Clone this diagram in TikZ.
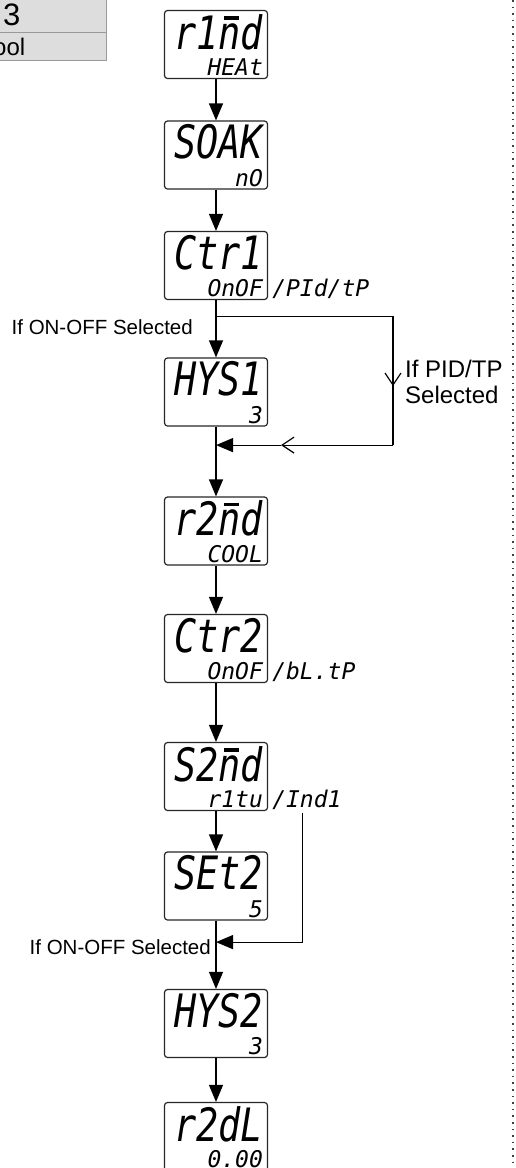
\documentclass[tikz,border=0pt]{standalone}
\usepackage{fontspec}
\setmainfont{Liberation Sans}
\newfontfamily\segfont{DejaVu Sans Mono}
\usetikzlibrary{arrows.meta,positioning}

% seven segment look-alikes
\newcommand{\bigseg}[1]{\scalebox{0.8}[1]{\fontsize{46}{46}\selectfont\segfont\itshape #1}}
\newcommand{\smallseg}[1]{{\fontsize{23}{23}\selectfont\segfont\itshape #1}}
\newcommand{\nbar}{\ooalign{n\cr\hidewidth\kern0.1em\rule[0.64em]{0.4em}{0.07em}\hidewidth\cr}}

\begin{document}
\begin{tikzpicture}[x=1pt, y=1pt, on grid,
    display/.style={draw=black!85, line width=1.2pt, rounded corners=3pt,
      minimum width=103pt, minimum height=68pt, inner sep=0pt},
    bigrow/.style={anchor=north east, inner sep=0pt, xshift=-5pt, yshift=-4pt},
    smallrow/.style={anchor=base east, inner sep=0pt, xshift=-5pt, yshift=3.5pt},
    extra/.style={anchor=base west, inner sep=0pt, xshift=4pt, yshift=3.5pt},
    flow/.style={line width=1.2pt, -{Triangle[length=17pt, width=14pt]}},
    branch/.style={line width=1.2pt},
    barb/.style={line width=1.2pt, -{Straight Barb[length=12pt, width=16pt]}},
    note/.style={inner sep=0pt, font=\fontsize{20.5}{24}\selectfont}]
    \path[use as bounding box] (0,0) rectangle (516,-1168);
    \clip (0,0) rectangle (516,-1168);

    % table corner
    \fill[gray!27] (-5,0) rectangle (106,-60);
    \draw[gray!80, line width=1pt] (-5,-32) -- (106,-32) (106,0) -- (106,-60) -- (-5,-60);
    \node[anchor=base west, inner sep=0pt, font=\fontsize{31}{31}\selectfont] (tnum) at (3,-25) {3};
    \node[anchor=base west, inner sep=0pt, font=\fontsize{24}{24}\selectfont] (tword) at (-7,-55) {ool};

    % displays
    \node[display] (b1) at (216,-44.5) {};
    \node[display] (b2) [below=110.5pt of b1] {};
    \node[display] (b3) [below=110.5pt of b2] {};
    \node[display] (b4) [below=126.5pt of b3] {};
    \node[display] (b5) [below=139pt of b4] {};
    \node[display] (b6) [below=117.5pt of b5] {};
    \node[display] (b7) [below=128pt of b6] {};
    \node[display] (b8) [below=109.5pt of b7] {};
    \node[display] (b9) [below=137.5pt of b8] {};
    \node[display] (b10) [below=113pt of b9] {};

    \node[bigrow] (b1t) at (b1.north east) {\bigseg{r1\nbar d}};
    \node[smallrow] (b1s) at (b1.south east) {\smallseg{HEAt}};
    \node[bigrow] (b2t) at (b2.north east) {\bigseg{SOAK}};
    \node[smallrow] (b2s) at (b2.south east) {\smallseg{nO}};
    \node[bigrow] (b3t) at (b3.north east) {\bigseg{Ctr1}};
    \node[smallrow] (b3s) at (b3.south east) {\smallseg{OnOF}};
    \node[extra] (b3x) at (b3.south east) {\smallseg{/PId/tP}};
    \node[bigrow] (b4t) at (b4.north east) {\bigseg{HYS1}};
    \node[smallrow] (b4s) at (b4.south east) {\smallseg{3}};
    \node[bigrow] (b5t) at (b5.north east) {\bigseg{r2\nbar d}};
    \node[smallrow] (b5s) at (b5.south east) {\smallseg{COOL}};
    \node[bigrow] (b6t) at (b6.north east) {\bigseg{Ctr2}};
    \node[smallrow] (b6s) at (b6.south east) {\smallseg{OnOF}};
    \node[extra] (b6x) at (b6.south east) {\smallseg{/bL.tP}};
    \node[bigrow] (b7t) at (b7.north east) {\bigseg{S2\nbar d}};
    \node[smallrow] (b7s) at (b7.south east) {\smallseg{r1tu}};
    \node[extra] (b7x) at (b7.south east) {\smallseg{/Ind1}};
    \node[bigrow] (b8t) at (b8.north east) {\bigseg{SEt2}};
    \node[smallrow] (b8s) at (b8.south east) {\smallseg{5}};
    \node[bigrow] (b9t) at (b9.north east) {\bigseg{HYS2}};
    \node[smallrow] (b9s) at (b9.south east) {\smallseg{3}};
    \node[bigrow] (b10t) at (b10.north east) {\bigseg{r2dL}};
    \node[smallrow] (b10s) at (b10.south east) {\smallseg{0.00}};

    \path[flow]
    (b1) edge (b2)
    (b2) edge (b3)
    (b3) edge (b4)
    (b4) edge (b5)
    (b5) edge (b6)
    (b6) edge (b7)
    (b7) edge (b8)
    (b8) edge (b9)
    (b9) edge (b10);

    % PID/TP bypass
    \coordinate[below=16pt of b3.south] (j1);
    \coordinate[right=177pt of j1] (j2);
    \coordinate[below=129pt of j2] (j3);
    \coordinate (j4) at (b4 |- j3);
    \coordinate[below=70pt of j2] (m1);
    \coordinate[left=112pt of j3] (m2);
    \draw[branch] (j1) -- (j2) -- (j3);
    \draw[barb] (j2) -- (m1);
    \draw[barb] (j3) -- (m2);
    \draw[flow] (m2) -- (j4);

    % Ind1 branch
    \coordinate[below right=2pt and 34pt of b7.south east] (k1);
    \coordinate[below=129pt of k1] (k2);
    \coordinate (k3) at (b8 |- k2);
    \draw[flow] (k1) -- (k2) -- (k3);

    \node[note, anchor=base east] (on1) at ([shift={(-23pt,-18pt)}]j1) {If ON-OFF Selected};
    \node[note, anchor=base east] (on2) at ([shift={(-5pt,-12pt)}]k3) {If ON-OFF Selected};
    \node[inner sep=0pt, anchor=north west, align=left, font=\fontsize{24}{26}\selectfont]
      (pid) at ([shift={(12pt,26.5pt)}]m1) {If PID/TP\\Selected};

    % divider
    \draw[black!75, line width=1.6pt, dash pattern=on 1.6pt off 5pt] (513,0) -- (513,-1168);
\end{tikzpicture}
\end{document}
